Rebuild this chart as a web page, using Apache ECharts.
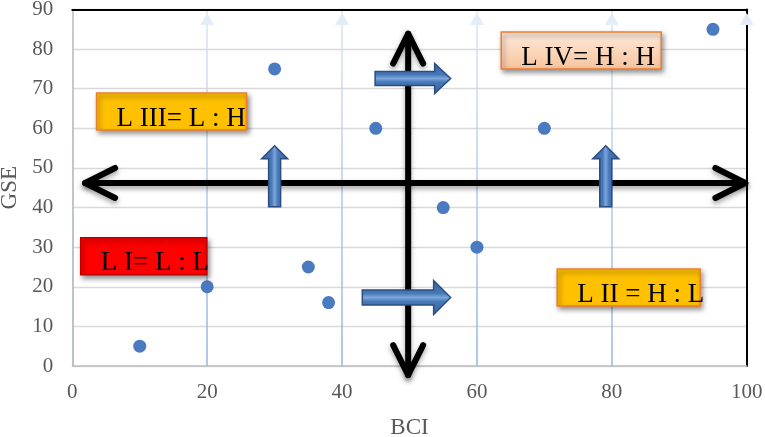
<!DOCTYPE html>
<html><head><meta charset="utf-8">
<script src="https://cdn.jsdelivr.net/npm/echarts@6/dist/echarts.min.js"></script>
<style>html,body{margin:0;padding:0;background:#fff}#c{width:765px;height:437px}</style>
</head><body><div id="c"></div>
<script>
// ---- data ----
const bciValues = [10, 20, 30, 35, 38, 45, 55, 60, 70, 95];
const gseValues = [5, 20, 75, 25, 16, 60, 40, 30, 60, 85];
const xAxisRange = [0, 100];
const yAxisRange = [0, 90];
const xTickStep = 20;
const yTickStep = 10;
const gridArrowTicks = [20, 40, 60, 80, 100];
const quadrantLabels = ['L I= L : L', 'L II = H : L', 'L III= L : H', 'L IV= H : H'];
// annotation anchors (data coords, top-left of each box)
const labelAnchors = [[1.25, 32.4], [71.9, 24.5], [3.6, 68.9], [63.6, 84.3]];
// double-headed black axis arrows [x1,y1,x2,y2]
const blackArrows = [[1.9, 46.2, 99.8, 46.2], [49.8, 83.9, 49.8, -2.3]];
// blue block arrows [tailX, tailY, tipX, tipY]
const blueArrows = [[30, 40.2, 30, 55.6], [79.1, 40.2, 79.1, 55.6], [44.9, 72.6, 56.1, 72.6], [43.0, 17.3, 56.1, 17.3]];

// ---- styles ----
const serif = '"Liberation Serif", "Times New Roman", serif';
const boxH = 37;
const labelStyles = [
  { w: 126, fill: '#FF0000', stroke: '#C00000' },
  { w: 143, fill: '#FFC000', stroke: '#ED7D31' },
  { w: 150, fill: '#FFC000', stroke: '#ED7D31' },
  { w: 160, fill: { type: 'linear', x: 0, y: 0, x2: 0, y2: 1, colorStops: [{ offset: 0, color: '#FDEBDD' }, { offset: 1, color: '#F8C39B' }] }, stroke: '#ED7D31' }
];
const blueSizes = [
  { s: 6, h: 13, L: 13 }, { s: 6, h: 13, L: 13 },
  { s: 7, h: 15, L: 16 }, { s: 7.5, h: 17, L: 17 }
];

function renderBlack(params, api) {
  const p1 = api.coord([api.value(0), api.value(1)]);
  const p2 = api.coord([api.value(2), api.value(3)]);
  const dx = p2[0] - p1[0], dy = p2[1] - p1[1];
  const len = Math.hypot(dx, dy);
  const ux = dx / len, uy = dy / len, nx = -uy, ny = ux;
  const L = 30, W = 15;
  const style = { stroke: '#000', lineWidth: 6, lineCap: 'round', lineJoin: 'round', fill: null,
    shadowBlur: 5, shadowOffsetY: 3, shadowColor: 'rgba(0,0,0,0.35)' };
  return { type: 'group', children: [
    { type: 'line', shape: { x1: p1[0], y1: p1[1], x2: p2[0], y2: p2[1] }, style },
    { type: 'polyline', shape: { points: [[p2[0] - ux * L + nx * W, p2[1] - uy * L + ny * W], p2, [p2[0] - ux * L - nx * W, p2[1] - uy * L - ny * W]] }, style },
    { type: 'polyline', shape: { points: [[p1[0] + ux * L + nx * W, p1[1] + uy * L + ny * W], p1, [p1[0] + ux * L - nx * W, p1[1] + uy * L - ny * W]] }, style }
  ] };
}

function renderBlue(params, api) {
  const sz = blueSizes[params.dataIndex];
  const p1 = api.coord([api.value(0), api.value(1)]);
  const p2 = api.coord([api.value(2), api.value(3)]);
  const dx = p2[0] - p1[0], dy = p2[1] - p1[1];
  const len = Math.hypot(dx, dy);
  const ux = dx / len, uy = dy / len, nx = -uy, ny = ux;
  const bx = p2[0] - ux * sz.L, by = p2[1] - uy * sz.L;
  const pts = [
    [p1[0] + nx * sz.s, p1[1] + ny * sz.s], [bx + nx * sz.s, by + ny * sz.s], [bx + nx * sz.h, by + ny * sz.h],
    p2, [bx - nx * sz.h, by - ny * sz.h], [bx - nx * sz.s, by - ny * sz.s], [p1[0] - nx * sz.s, p1[1] - ny * sz.s]
  ];
  const vertical = Math.abs(dy) > Math.abs(dx);
  const stops = [
    { offset: 0, color: '#3a659c' }, { offset: 0.38, color: '#4677b7' }, { offset: 0.5, color: '#7ba6dc' },
    { offset: 0.62, color: '#4677b7' }, { offset: 1, color: '#3a659c' }
  ];
  const grad = vertical ? { type: 'linear', x: 0, y: 0, x2: 1, y2: 0, colorStops: stops }
                        : { type: 'linear', x: 0, y: 0, x2: 0, y2: 1, colorStops: stops };
  return { type: 'polygon', shape: { points: pts }, style: { fill: grad, stroke: '#2c4d7e', lineWidth: 1.5 } };
}

function renderLabel(params, api) {
  const i = params.dataIndex;
  const st = labelStyles[i];
  const p = api.coord([api.value(0), api.value(1)]);
  return { type: 'group', children: [
    { type: 'rect', shape: { x: p[0], y: p[1], width: st.w, height: boxH },
      style: { fill: st.fill, stroke: st.stroke, lineWidth: 1.5, shadowBlur: 5, shadowOffsetX: 2, shadowOffsetY: 3, shadowColor: 'rgba(0,0,0,0.45)' } },
    { type: 'text', style: { text: quadrantLabels[i], x: p[0] + 20, y: p[1] + 25.5, font: '27px ' + serif,
      fill: '#000', align: 'left', verticalAlign: 'middle' } }
  ] };
}

function renderGridArrow(params, api) {
  const p = api.coord([api.value(0), yAxisRange[1]]);
  return { type: 'polygon', shape: { points: [[p[0], p[1] + 3.5], [p[0] + 7, p[1] + 15.5], [p[0] - 7, p[1] + 15.5]] },
    style: { fill: '#e4ecf6' } };
}

const chart = echarts.init(document.getElementById('c'));
chart.setOption({
  animation: false,
  backgroundColor: '#fff',
  grid: { left: 72.3, right: 18.3, top: 9.5, bottom: 71, containLabel: false, outerBoundsMode: 'none' },
  xAxis: [{
    type: 'value', min: xAxisRange[0], max: xAxisRange[1], interval: xTickStep,
    name: 'BCI', nameLocation: 'middle', nameGap: 50,
    nameTextStyle: { fontFamily: serif, fontSize: 23, color: '#595959' },
    axisLine: { show: true, onZero: false, lineStyle: { color: '#bfbfbf', width: 1.5 } },
    axisTick: { show: false },
    axisLabel: { fontFamily: serif, fontSize: 21, color: '#595959', margin: 16 },
    splitLine: { show: true, lineStyle: { width: 1.5, color: { type: 'linear', x: 0, y: 0, x2: 0, y2: 1,
      colorStops: [{ offset: 0, color: '#dbe6f4' }, { offset: 0.5, color: '#b3cbeb' }, { offset: 1, color: '#92b5e1' }] } } }
  }, {
    type: 'value', position: 'top', min: xAxisRange[0], max: xAxisRange[1],
    axisLine: { show: true, onZero: false, lineStyle: { color: '#000', width: 2 } },
    axisTick: { show: false }, axisLabel: { show: false }, splitLine: { show: false }
  }],
  yAxis: [{
    type: 'value', min: yAxisRange[0], max: yAxisRange[1], interval: yTickStep,
    name: 'GSE', nameLocation: 'middle', nameGap: 50,
    nameTextStyle: { fontFamily: serif, fontSize: 23, color: '#595959' },
    axisLine: { show: true, onZero: false, lineStyle: { color: '#bfbfbf', width: 1.5 } },
    axisTick: { show: false },
    axisLabel: { fontFamily: serif, fontSize: 21, color: '#595959', margin: 19 },
    splitLine: { show: true, lineStyle: { color: '#d9d9d9', width: 1.3 } }
  }, {
    type: 'value', position: 'right', min: yAxisRange[0], max: yAxisRange[1],
    axisLine: { show: true, onZero: false, lineStyle: { color: '#000', width: 2 } },
    axisTick: { show: false }, axisLabel: { show: false }, splitLine: { show: false }
  }],
  series: [
    { type: 'custom', name: 'gridArrows', renderItem: renderGridArrow, data: gridArrowTicks.map(v => [v]), z: 1, clip: false, silent: true },
    { type: 'custom', name: 'axesArrows', renderItem: renderBlack, data: blackArrows, z: 3, clip: false, silent: true },
    { type: 'custom', name: 'blueArrows', renderItem: renderBlue, data: blueArrows, z: 4, clip: false, silent: true },
    { type: 'scatter', name: 'GSE vs BCI', data: bciValues.map((x, i) => [x, gseValues[i]]), symbolSize: 13,
      itemStyle: { color: '#4a7bc0', opacity: 1 }, z: 5 },
    { type: 'custom', name: 'labels', renderItem: renderLabel, data: labelAnchors, z: 6, clip: false, silent: true }
  ]
});
</script>
</body></html>
